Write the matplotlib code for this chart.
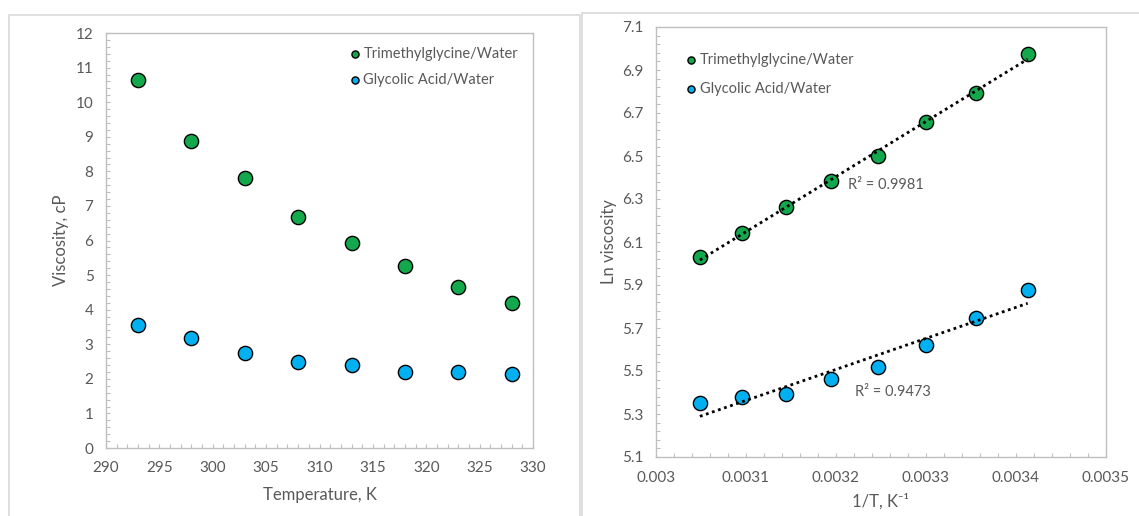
import numpy as np
import matplotlib
matplotlib.use("Agg")
import matplotlib.pyplot as plt
from matplotlib.patches import Rectangle
from matplotlib.ticker import MultipleLocator, FixedLocator

# ---------------- data ----------------
temperature = [293, 298, 303, 308, 313, 318, 323, 328]
visc_tmg = [10.65, 8.87, 7.80, 6.67, 5.92, 5.25, 4.65, 4.20]
visc_ga = [3.57, 3.17, 2.76, 2.50, 2.40, 2.20, 2.20, 2.15]

inv_T = [1 / t for t in temperature]
ln_tmg = [6.975, 6.795, 6.660, 6.500, 6.383, 6.262, 6.140, 6.032]
ln_ga = [5.877, 5.745, 5.620, 5.520, 5.465, 5.392, 5.377, 5.352]

series_names = ["Trimethylglycine/Water", "Glycolic Acid/Water"]
r2_labels = ["R² = 0.9981", "R² = 0.9473"]
ln_ticks = [5.1, 5.3, 5.5, 5.7, 5.9, 6.1, 6.3, 6.5, 6.7, 6.9, 7.1]
invT_ticks = [0.003, 0.0031, 0.0032, 0.0033, 0.0034, 0.0035]
invT_ticklabels = ["0.003", "0.0031", "0.0032", "0.0033", "0.0034", "0.0035"]

# ---------------- style ----------------
GREEN = "#12A84B"
BLUE = "#00B0F0"
TXT = "#595959"
AXC = "#BFBFBF"
FONT = ["Lato", "DejaVu Sans"]
plt.rcParams["font.family"] = FONT

W, H = 1139, 516
fig = plt.figure(figsize=(W / 100, H / 100), dpi=100)

def px_rect(x0, y0, x1, y1):
    return [x0 / W, 1 - y1 / H, (x1 - x0) / W, (y1 - y0) / H]

# panel borders
for (x0, y0, x1, y1) in [(9, 15, 580, 520), (582, 13, 1145, 520)]:
    fig.patches.append(Rectangle((x0 / W, 1 - y1 / H), (x1 - x0) / W, (y1 - y0) / H,
                                 transform=fig.transFigure, fill=False,
                                 edgecolor="#D9D9D9", linewidth=1.2))

def style_axes(ax):
    for s in ax.spines.values():
        s.set_color(AXC)
        s.set_linewidth(1.0)
    ax.tick_params(which="both", direction="in", colors=AXC, labelcolor=TXT,
                   labelsize=11, length=3, width=0.8)
    ax.tick_params(axis="x", which="both", pad=9)
    ax.tick_params(axis="y", which="both", pad=9)
    ax.set_facecolor("white")

MS = 105

# ---------------- left panel ----------------
ax1 = fig.add_axes(px_rect(106, 33, 533, 448))
ax1.scatter(temperature, visc_tmg, s=MS, color=GREEN, edgecolor="black",
            linewidth=1.0, zorder=3, label=series_names[0])
ax1.scatter(temperature, visc_ga, s=MS, color=BLUE, edgecolor="black",
            linewidth=1.0, zorder=3, label=series_names[1])
ax1.set_xlim(290, 330)
ax1.set_ylim(0, 12)
ax1.xaxis.set_major_locator(MultipleLocator(5))
ax1.xaxis.set_minor_locator(MultipleLocator(1))
ax1.yaxis.set_major_locator(MultipleLocator(1))
ax1.yaxis.set_minor_locator(MultipleLocator(0.2))
style_axes(ax1)
ax1.set_xlabel("Temperature, K", color=TXT, fontsize=12, labelpad=9)
ax1.set_ylabel("Viscosity, cP", color=TXT, fontsize=12, labelpad=5)
leg1 = ax1.legend(loc="upper left", bbox_to_anchor=(0.565, 0.967), frameon=False,
                  fontsize=10.5, markerscale=0.5, handletextpad=0.1,
                  handlelength=1.0, labelspacing=0.85, borderpad=0, borderaxespad=0)
for t in leg1.get_texts():
    t.set_color(TXT)

# ---------------- right panel ----------------
ax2 = fig.add_axes(px_rect(656, 27, 1106, 457))
ax2.scatter(inv_T, ln_tmg, s=MS, color=GREEN, edgecolor="black",
            linewidth=1.0, zorder=3, label=series_names[0])
ax2.scatter(inv_T, ln_ga, s=MS, color=BLUE, edgecolor="black",
            linewidth=1.0, zorder=3, label=series_names[1])
for yv in (ln_tmg, ln_ga):
    k, b = np.polyfit(inv_T, yv, 1)
    xs = np.array([min(inv_T), max(inv_T)])
    ax2.plot(xs, k * xs + b, color="black", linewidth=2.0,
             linestyle=(0, (1, 1.3)), dash_capstyle="butt", zorder=4)
ax2.text(0.003213, 6.365, r2_labels[0], color=TXT, fontsize=10.5, va="center", ha="left")
ax2.text(0.003221, 5.400, r2_labels[1], color=TXT, fontsize=10.5, va="center", ha="left")
ax2.set_xlim(0.003, 0.0035)
ax2.set_ylim(5.1, 7.1)
ax2.xaxis.set_major_locator(FixedLocator(invT_ticks))
ax2.set_xticklabels(invT_ticklabels)
ax2.xaxis.set_minor_locator(FixedLocator(np.linspace(0.003, 0.0035, 26)))
ax2.yaxis.set_major_locator(FixedLocator(ln_ticks))
ax2.set_yticklabels([f"{v:.1f}" for v in ln_ticks])
ax2.yaxis.set_minor_locator(FixedLocator(np.linspace(5.1, 7.1, 51)))
style_axes(ax2)
ax2.tick_params(axis="x", which="both", pad=10)
ax2.set_xlabel("1/T, K⁻¹", color=TXT, fontsize=12, labelpad=6)
ax2.set_ylabel("Ln viscosity", color=TXT, fontsize=12, labelpad=4)
leg2 = ax2.legend(loc="upper left", bbox_to_anchor=(0.062, 0.94), frameon=False,
                  fontsize=10.5, markerscale=0.5, handletextpad=0.1,
                  handlelength=1.0, labelspacing=1.05, borderpad=0, borderaxespad=0)
for t in leg2.get_texts():
    t.set_color(TXT)

fig.savefig("out.png", dpi=100, facecolor="white")
